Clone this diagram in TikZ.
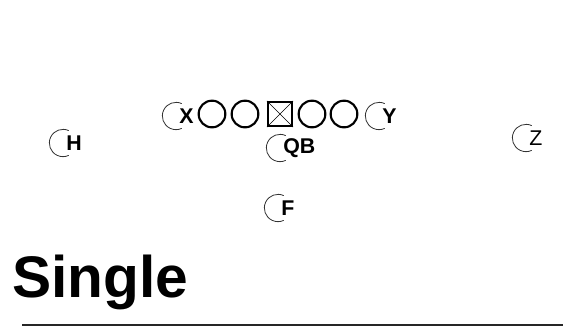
\documentclass[tikz,border=0pt]{standalone}
\usepackage{fontspec}
\setmainfont{Liberation Sans}
\usepackage{tikz}
\usetikzlibrary{positioning, calc}
\tikzset{
    lineman/.style={circle, draw, line width=1.6pt, minimum size=20pt, inner sep=0pt},
    center_box/.style={rectangle, draw, line width=1.6pt, minimum size=18pt, inner sep=0pt},
    skill_label/.style={anchor=west, inner sep=0pt, font=\fontsize{16}{16}\selectfont\bfseries},
    hook/.style={line width=0.6pt, black!80}
}

\begin{document}
\begin{tikzpicture}[x=0.75pt, y=0.75pt]
    \useasboundingbox (0,0) rectangle (563,-329);
    % line
    \node (c) [center_box] at (280,-114) {};
    \draw [line width=0.5pt] (c.north west) -- (c.south east) (c.south west) -- (c.north east);
    \foreach \px [count=\i] in {212,245,312,344}
        \node (ol\i) [lineman] at (\px,-114) {};
    % skill players
    \foreach \nm/\px/\py/\txt in {wr_x/176/116/X, te_y/379/116/Y, hb_h/63/143/H, qb/280/148/QB, wr_z/526/138/{\mdseries Z}, fb/278/208/F} {
        \coordinate (\nm_c) at (\px,-\py);
        \node (\nm) [skill_label, right=3 of \nm_c] {\txt};
        \draw [hook] ($(\nm_c)+(65:10.25pt)$) arc[start angle=65, end angle=295, radius=10.25pt];
    }
    % title
    \node (title) [anchor=base west, inner sep=0pt, font=\fontsize{44}{44}\selectfont\bfseries] at (12,-297) {Single};
    \coordinate (rule_l) at (22,-325);
    \coordinate (rule_r) at (563,-325);
    \draw [line width=1.5pt, black!85] (rule_l) -- (rule_r);
\end{tikzpicture}
\end{document}
